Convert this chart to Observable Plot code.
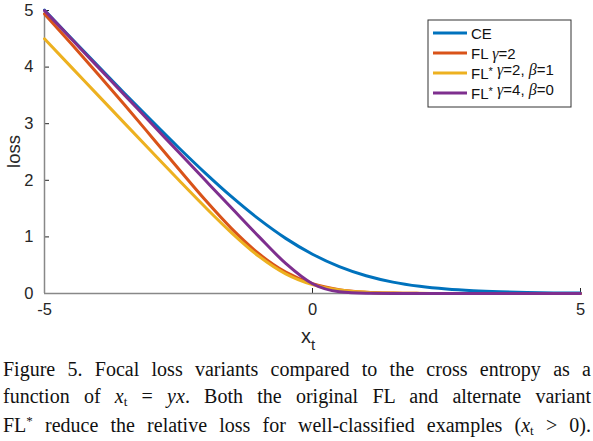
<!DOCTYPE html>
<html>
<head>
<meta charset="utf-8">
<script src="https://cdn.jsdelivr.net/npm/d3@7"></script>
<script src="https://cdn.jsdelivr.net/npm/@observablehq/plot@0.6"></script>
<style>
  body { margin: 0; background: #fff; }
  #chart { width: 593px; height: 356px; }
  .caption { font-family: "Liberation Serif", serif; font-size: 20px; line-height: 26.5px; color: #111; padding: 0 2px 0 3px; }
  .caption div { text-align: justify; text-align-last: justify; white-space: nowrap; }
  .caption i { font-style: italic; }
  .sub { font-size: 13px; position: relative; top: 3px; font-style: normal; }
</style>
</head>
<body>
<div id="chart"></div>
<div class="caption">
  <div>Figure 5. Focal loss variants compared to the cross entropy as a</div>
  <div>function of <i>x</i><span class="sub">t</span> = <i>yx</i>. Both the original FL and alternate variant</div>
  <div>FL<span style="font-size:13px;position:relative;top:-7px">*</span> reduce the relative loss for well-classified examples (<i>x</i><span class="sub">t</span> &gt; 0).</div>
</div>
<script>
// x_t muestreado cada 0.5
const xs = [-5, -4.5, -4, -3.5, -3, -2.5, -2, -1.5, -1, -0.5, 0, 0.5, 1, 1.5, 2, 2.5, 3, 3.5, 4, 4.5, 5]

const lossCE   = [5.007, 4.511, 4.018, 3.530, 3.049, 2.579, 2.127, 1.701, 1.313, 0.974, 0.693, 0.474, 0.313, 0.201, 0.127, 0.079, 0.049, 0.030, 0.018, 0.011, 0.007]
const lossFL   = [4.940, 4.413, 3.875, 3.326, 2.766, 2.203, 1.650, 1.137, 0.702, 0.377, 0.173, 0.068, 0.023, 0.007, 0.002, 0.0005, 0.0001, 0, 0, 0, 0]
const lossFLs1 = [4.500, 4.000, 3.501, 3.001, 2.503, 2.009, 1.524, 1.064, 0.657, 0.347, 0.157, 0.064, 0.024, 0.009, 0.003, 0.001, 0.0005, 0.0002, 0.0001, 0, 0]
const lossFLs2 = [5.000, 4.500, 4.000, 3.500, 3.000, 2.500, 2.000, 1.501, 1.005, 0.532, 0.173, 0.032, 0.005, 0.0006, 0.0001, 0, 0, 0, 0, 0, 0]

const series = ["CE", "FL γ=2", "FL* γ=2, β=1", "FL* γ=4, β=0"]
const colores = ["#0072BD", "#D95319", "#EDB120", "#7E2F8E"]
const xTicks = [-5, 0, 5]
const yTicks = [0, 1, 2, 3, 4, 5]

/* armamos la tabla larga para Plot */
const valores = [lossCE, lossFL, lossFLs1, lossFLs2]
const rows = series.flatMap((s, i) => xs.map((x, j) => ({serie: s, x: x, loss: valores[i][j]})))

const W = 593, H = 356
let chart = Plot.plot({
  width: W,
  height: H,
  marginLeft: 44,
  marginRight: 13,
  marginTop: 10,
  marginBottom: 63,
  style: {fontFamily: "'Liberation Sans', Arial, sans-serif", fontSize: "16.5px", color: "#262626", background: "#fff"},
  x: {domain: [-5, 5], ticks: xTicks, label: null},
  y: {domain: [0, 5], ticks: yTicks, label: null},
  color: {domain: series, range: colores},
  marks: [
    Plot.axisX({ticks: xTicks, tickSize: -5, tickPadding: 15, label: null, tickFormat: d => String(d), stroke: "#262626"}),
    Plot.axisY({ticks: yTicks, tickSize: -5, tickPadding: 16, label: null, tickFormat: d => String(d), stroke: "#262626"}),
    Plot.ruleY([0], {stroke: "#888", strokeWidth: 1.5}),
    Plot.ruleX([-5], {stroke: "#888", strokeWidth: 1.5}),
    Plot.line(rows, {x: "x", y: "loss", z: "serie", stroke: "serie", strokeWidth: 3, curve: "monotone-x"})
  ]
})

d3.select('#chart').append(() => chart)

const svg = d3.select(chart)
const xs_ = chart.scale("x"), ys_ = chart.scale("y")

/* etiquetas de ejes */
const xl = svg.append("text")
  .attr("x", (xs_.range[0] + xs_.range[1]) / 2 - 4)
  .attr("y", 343)
  .attr("text-anchor", "middle")
  .attr("font-family", "'Liberation Sans', Arial, sans-serif")
  .attr("font-size", 20)
  .attr("fill", "#262626")
xl.append("tspan").text("x")
xl.append("tspan").attr("dy", 7).attr("font-size", 15).text("t")

svg.append("text")
  .attr("transform", `translate(20,${(ys_.range[0] + ys_.range[1]) / 2}) rotate(-90)`)
  .attr("text-anchor", "middle")
  .attr("font-family", "'Liberation Sans', Arial, sans-serif")
  .attr("font-size", 18.5)
  .attr("fill", "#262626")
  .text("loss")

/* leyenda dentro del gráfico */
const leg = svg.append("g").attr("transform", "translate(428,20)")
leg.append("rect").attr("width", 143).attr("height", 87)
  .attr("fill", "#fff").attr("stroke", "#333").attr("stroke-width", 1)
series.forEach((s, i) => {
  const y = 13 + i * 20
  leg.append("line").attr("x1", 5).attr("x2", 39).attr("y1", y).attr("y2", y)
    .attr("stroke", colores[i]).attr("stroke-width", 3)
  const t = leg.append("text").attr("x", 43).attr("y", y + 5.5)
    .attr("text-anchor", "start")
    .attr("font-family", "'Liberation Sans', Arial, sans-serif")
    .attr("font-size", 15).attr("fill", "#111")
  s.split(/([γβ*])/).filter(p => p !== "").forEach(p => {
    if (p === "γ" || p === "β") {
      t.append("tspan").attr("font-family", "'Liberation Serif', serif").attr("font-style", "italic").attr("font-size", 16).text(p)
    } else if (p === "*") {
      t.append("tspan").attr("font-size", 11).attr("dy", -4).text("*")
      t.append("tspan").attr("dy", 4).text("")
    } else {
      t.append("tspan").text(p)
    }
  })
})
</script>
</body>
</html>
